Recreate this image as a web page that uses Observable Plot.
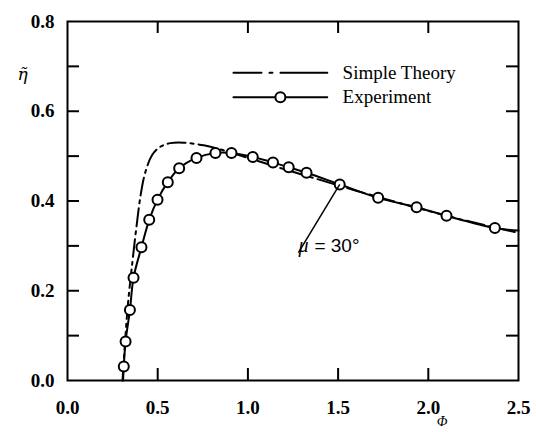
<!DOCTYPE html>
<html><head><meta charset="utf-8">
<script src="https://cdn.jsdelivr.net/npm/d3@7"></script>
<script src="https://cdn.jsdelivr.net/npm/@observablehq/plot@0.6"></script>
<style>body{margin:0;background:#fff}</style>
</head><body><div id="chart"></div>
<script>
// Experiment (circles)
const expPhi = [0.312,0.322,0.346,0.366,0.410,0.453,0.499,0.556,0.619,0.715,0.820,0.909,1.027,1.139,1.226,1.325,1.509,1.722,1.935,2.101,2.369];
const expEta = [0.031,0.087,0.157,0.229,0.297,0.358,0.403,0.442,0.473,0.496,0.507,0.507,0.498,0.486,0.475,0.463,0.437,0.407,0.386,0.367,0.340];
// Experiment line end points (line only)
const expLineStart = {phi: 0.308, eta: 0.0};
const expLineEnd = {phi: 2.5, eta: 0.334};
// Simple theory (dash-dot)
const thPhi = [0.305,0.318,0.335,0.36,0.38,0.405,0.43,0.47,0.515,0.57,0.645,0.755,0.865,1.0,1.2,1.4,1.6,1.8,2.0,2.2,2.5];
const thEta = [0.0,0.08,0.17,0.265,0.335,0.412,0.462,0.503,0.521,0.529,0.530,0.524,0.513,0.496,0.471,0.447,0.423,0.400,0.378,0.357,0.329];
// Ticks
const xTicks = [0, 0.5, 1.0, 1.5, 2.0, 2.5];
const yTicks = [0, 0.2, 0.4, 0.6, 0.8];
const yMinor = [0.1, 0.2, 0.3, 0.4, 0.5, 0.6, 0.7];
const xMinor = [0.5, 1.0, 1.5, 2.0];
// Legend
const legendLabels = ["Simple Theory", "Experiment"];
const legendEta = [0.686, 0.631];
const legendLinePhi = [0.92, 1.44];
const legendTextPhi = 1.525;
// Annotation
const annFrom = {phi: 1.509, eta: 0.437};
const annTo = {phi: 1.28, eta: 0.285};

const expPts = expPhi.map((p, i) => ({phi: p, eta: expEta[i]}));
const expLine = [expLineStart, ...expPts, expLineEnd];
const thPts = thPhi.map((p, i) => ({phi: p, eta: thEta[i]}));
const legTh = legendLinePhi.map(p => ({phi: p, eta: legendEta[0]}));
const legEx = legendLinePhi.map(p => ({phi: p, eta: legendEta[1]}));

const W = 536, H = 432, mL = 67, mR = 18, mT = 21, mB = 52;
const pw = W - mL - mR, ph = H - mT - mB, tk = 12;
const serif = "Liberation Serif, Times New Roman, serif";

const chart = Plot.plot({
  width: W, height: H,
  marginLeft: mL, marginRight: mR, marginTop: mT, marginBottom: mB,
  style: {fontFamily: serif, background: "#fff", color: "#000"},
  x: {domain: [0, 2.5]},
  y: {domain: [0, 0.8]},
  marks: [
    Plot.axisY(yTicks, {tickSize: 0, tickPadding: 13, tickFormat: d3.format(".1f"), fontSize: 19, fontWeight: "bold", label: null}),
    Plot.axisX(xTicks, {tickSize: 0, tickPadding: 20, tickFormat: d3.format(".1f"), fontSize: 19, fontWeight: "bold", label: null}),
    Plot.tickY(yMinor, {y: d => d, insetRight: pw - tk, strokeWidth: 2}),
    Plot.tickY(yMinor, {y: d => d, insetLeft: pw - tk, strokeWidth: 2}),
    Plot.tickX(xMinor, {x: d => d, insetBottom: ph - tk, strokeWidth: 2}),
    Plot.tickX(xMinor, {x: d => d, insetTop: ph - tk, strokeWidth: 2}),
    Plot.frame({stroke: "#000", strokeWidth: 2}),
    Plot.line(thPts, {x: "phi", y: "eta", curve: "catmull-rom", stroke: "#000", strokeWidth: 2, strokeDasharray: "18,5,3,5"}),
    Plot.line(expLine, {x: "phi", y: "eta", curve: "catmull-rom", stroke: "#000", strokeWidth: 2}),
    Plot.dot(expPts, {x: "phi", y: "eta", r: 5, fill: "#fff", stroke: "#000", strokeWidth: 2}),
    Plot.line(legTh, {x: "phi", y: "eta", stroke: "#000", strokeWidth: 2, strokeDasharray: "28,8,3,8,60"}),
    Plot.line(legEx, {x: "phi", y: "eta", stroke: "#000", strokeWidth: 2}),
    Plot.dot([{phi: d3.mean(legendLinePhi), eta: legendEta[1]}], {x: "phi", y: "eta", r: 5, fill: "#fff", stroke: "#000", strokeWidth: 2}),
    Plot.text(legendLabels, {x: legendTextPhi, y: (d, i) => legendEta[i], text: d => d, textAnchor: "start", fontSize: 19, fontFamily: serif}),
    Plot.link([{}], {x1: annFrom.phi, y1: annFrom.eta, x2: annTo.phi, y2: annTo.eta, stroke: "#000", strokeWidth: 1.5}),
    Plot.text(["\u03bc"], {x: annTo.phi, y: annTo.eta, text: d => d, textAnchor: "start", lineAnchor: "bottom", dy: -1, dx: 0, fontSize: 20, fontStyle: "italic", fontFamily: serif}),
    Plot.text(["= 30\u00b0"], {x: annTo.phi, y: annTo.eta, text: d => d, textAnchor: "start", lineAnchor: "bottom", dy: -1, dx: 16, fontSize: 19, fontFamily: "Liberation Sans, Arial, sans-serif"}),
    Plot.text(["\u03b7\u0303"], {frameAnchor: "top-left", dx: -50, dy: 46, text: d => d, fontSize: 17, fontStyle: "italic", fontFamily: "DejaVu Serif, serif"}),
    Plot.text(["\u03a6"], {frameAnchor: "bottom-right", dx: -71, dy: 45, text: d => d, fontSize: 14, fontStyle: "italic", fontFamily: serif})
  ]
});
document.getElementById("chart").appendChild(chart);
</script>
</body></html>
